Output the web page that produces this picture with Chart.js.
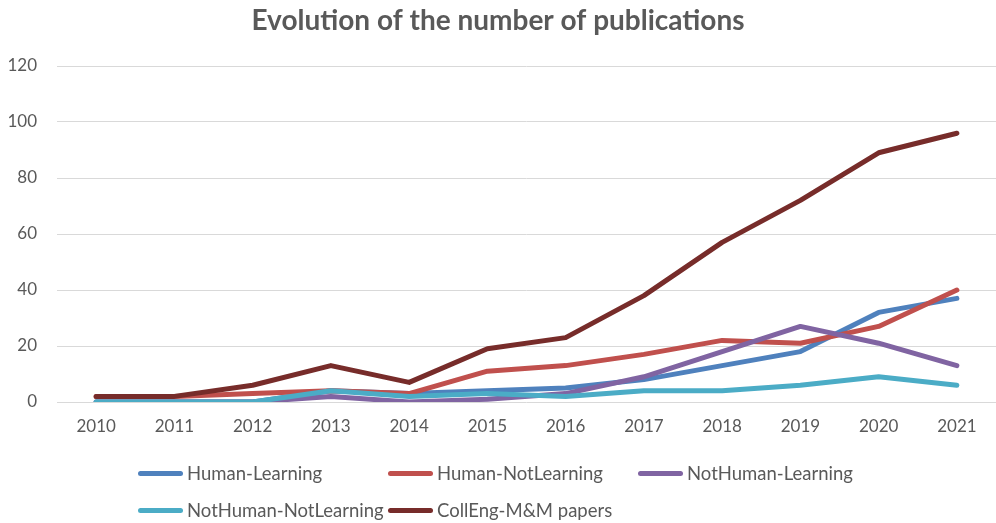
<!DOCTYPE html>
<html>
<head>
<meta charset="utf-8">
<script src="https://cdn.jsdelivr.net/npm/chart.js@4"></script>
<style>
  html, body { margin: 0; padding: 0; background: #fff; }
  #wrap { position: relative; width: 996px; height: 523px; }
  canvas { position: absolute; left: 0; top: 0; }
  .lg { position: absolute; height: 24px; display: flex; align-items: center; font-family: Lato, sans-serif; font-size: 18.5px; color: #595959; white-space: nowrap; }
  .lg .sw { width: 45px; height: 5px; border-radius: 3px; margin-right: 4px; }
</style>
</head>
<body>
<div id="wrap">
  <canvas id="c" width="996" height="523"></canvas>
  <div id="legend"></div>
</div>
<script>
const chartTitle = "Evolution of the number of publications";
const years = ["2010","2011","2012","2013","2014","2015","2016","2017","2018","2019","2020","2021"];
const seriesNames = ["Human-Learning","Human-NotLearning","NotHuman-Learning","NotHuman-NotLearning","CollEng-M&M papers"];
const humanLearning       = [0, 0, 0, 4, 3, 4, 5, 8, 13, 18, 32, 37];
const humanNotLearning    = [2, 2, 3, 4, 3, 11, 13, 17, 22, 21, 27, 40];
const notHumanLearning    = [0, 0, 0, 2, 0, 1, 3, 9, 18, 27, 21, 13];
const notHumanNotLearning = [0, 0, 0, 4, 2, 3, 2, 4, 4, 6, 9, 6];
const collEngPapers       = [2, 2, 6, 13, 7, 19, 23, 38, 57, 72, 89, 96];
const yTicks = [0, 20, 40, 60, 80, 100, 120];

const colors = ["#4F81BD", "#C0504D", "#8064A2", "#4BACC6", "#772C2A"];
const values = [humanLearning, humanNotLearning, notHumanLearning, notHumanNotLearning, collEngPapers];

const datasets = values.map((v, i) => ({
  label: seriesNames[i],
  data: v,
  borderColor: colors[i],
  backgroundColor: colors[i],
  borderWidth: 5,
  pointRadius: 0,
  pointHoverRadius: 0,
  tension: 0,
  fill: false,
  borderCapStyle: 'round',
  borderJoinStyle: 'round',
  order: values.length - 1 - i
}));

const textColor = '#595959';

new Chart(document.getElementById('c'), {
  type: 'line',
  data: { labels: years, datasets },
  options: {
    responsive: false,
    devicePixelRatio: 1,
    animation: false,
    layout: { padding: { left: 0, right: 0, top: 4, bottom: 0 } },
    plugins: {
      legend: { display: false },
      tooltip: { enabled: false },
      title: {
        display: true,
        text: chartTitle,
        color: textColor,
        font: { family: 'Lato', size: 28, weight: 'bold' },
        padding: { top: 0, bottom: 28.4 }
      }
    },
    scales: {
      x: {
        type: 'category',
        offset: true,
        grid: { display: false, drawTicks: false },
        border: { display: false },
        ticks: { color: textColor, font: { family: 'Lato', size: 17 }, padding: 14, maxRotation: 0 },
        afterFit: s => { s.height = 121; }
      },
      y: {
        min: 0,
        max: 120,
        afterBuildTicks: s => { s.ticks = yTicks.map(v => ({ value: v })); },
        grid: { color: '#d9d9d9', lineWidth: 1, drawTicks: false },
        border: { display: false },
        ticks: { color: textColor, font: { family: 'Lato', size: 17 }, padding: 20 },
        afterFit: s => { s.width = 57; }
      }
    }
  }
});

// legend (HTML, grid layout as in the reference)
const legendPos = [[138, 473], [388, 473], [638, 473], [138, 510], [388, 510]];
const lg = document.getElementById('legend');
seriesNames.forEach((n, i) => {
  const d = document.createElement('div');
  d.className = 'lg';
  d.style.left = legendPos[i][0] + 'px';
  d.style.top = (legendPos[i][1] - 12) + 'px';
  const sw = document.createElement('span');
  sw.className = 'sw';
  sw.style.background = colors[i];
  const t = document.createElement('span');
  t.textContent = n;
  d.appendChild(sw);
  d.appendChild(t);
  lg.appendChild(d);
});
</script>
</body>
</html>
